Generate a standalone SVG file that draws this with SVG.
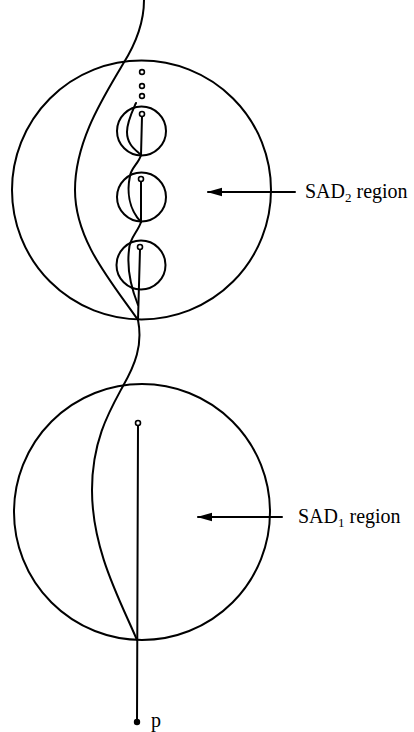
<svg xmlns="http://www.w3.org/2000/svg" width="414" height="732" viewBox="0 0 414 732">
  <style>
    .ln { fill: none; stroke: #000; stroke-width: 2; stroke-linecap: round; }
    .dot { fill: #fff; stroke: #000; stroke-width: 1.6; }
    .lbl { font-family: "Liberation Serif", "Times New Roman", serif; font-size: 20px; fill: #000; }
    .sub { font-size: 13px; }
  </style>
  <defs>
    <!-- arrowhead drawn along +x, rotated to follow the line -->
    <marker id="head" markerWidth="16" markerHeight="10" refX="14" refY="5" orient="auto" markerUnits="userSpaceOnUse">
      <path d="M0,0.8 L15,5 L0,9.2 Z" fill="#000"/>
    </marker>
  </defs>
  <rect width="414" height="732" fill="#fff"/>

  <!-- outer regions -->
  <g id="sad2-region">
    <circle class="ln" cx="141.5" cy="190" r="129.5"/>
  </g>
  <g id="sad1-region">
    <circle class="ln" cx="142" cy="512" r="128"/>
  </g>

  <!-- small nested regions -->
  <g id="sub-region-1">
    <circle class="ln" cx="141.5" cy="131" r="24.5"/>
  </g>
  <g id="sub-region-2">
    <circle class="ln" cx="141.5" cy="197" r="24.5"/>
  </g>
  <g id="sub-region-3">
    <circle class="ln" cx="141" cy="265" r="24.5"/>
  </g>

  <!-- connectors -->
  <g id="connectors">
    <!-- long wavy path -->
    <path class="ln" d="M144,0 C144,25 135,45 123,64 C105,95 75,140 75,190 C75,240 110,280 138,320"/>
    <path class="ln" d="M138,320 C143,345 135,365 123,386 C110,410 92,440 92,490 C92,550 120,600 137,640"/>
    <!-- short wavy pieces inside the small regions -->
    <path class="ln" d="M136,103 C132,112 127,122 127,132 C127,145 136,150 141,155"/>
    <path class="ln" d="M141,155 C139,163 131,168 130,176 C127,190 128,208 141,222"/>
    <path class="ln" d="M141,222 C138,232 129,238 129,250 C127,266 130,285 138,305"/>
    <!-- straight segments -->
    <line class="ln" x1="142" y1="116.5" x2="141" y2="155"/>
    <line class="ln" x1="141" y1="181.5" x2="141" y2="222"/>
    <line class="ln" x1="140" y1="249.5" x2="138" y2="320"/>
    <line class="ln" x1="138" y1="425.5" x2="137" y2="722"/>
    <!-- label arrows -->
    <line class="ln" x1="295" y1="192" x2="208" y2="192" marker-end="url(#head)"/>
    <line class="ln" x1="282" y1="517" x2="198" y2="517" marker-end="url(#head)"/>
  </g>

  <!-- open endpoint markers -->
  <g id="dots">
    <circle class="dot" cx="142" cy="72" r="2.4"/>
    <circle class="dot" cx="142" cy="86" r="2.4"/>
    <circle class="dot" cx="142" cy="96" r="2.4"/>
    <circle class="dot" cx="142" cy="114" r="2.5"/>
    <circle class="dot" cx="141" cy="179" r="2.5"/>
    <circle class="dot" cx="140" cy="247" r="2.5"/>
    <circle class="dot" cx="138" cy="423" r="2.5"/>
  </g>

  <g id="point-p">
    <circle cx="137" cy="722" r="3.2" fill="#000"/>
    <text class="lbl" x="151" y="727">p</text>
  </g>

  <g id="labels">
    <text class="lbl" x="305" y="198">SAD<tspan class="sub" dy="4">2</tspan><tspan dy="-4"> region</tspan></text>
    <text class="lbl" x="298" y="523">SAD<tspan class="sub" dy="4">1</tspan><tspan dy="-4"> region</tspan></text>
  </g>
</svg>
